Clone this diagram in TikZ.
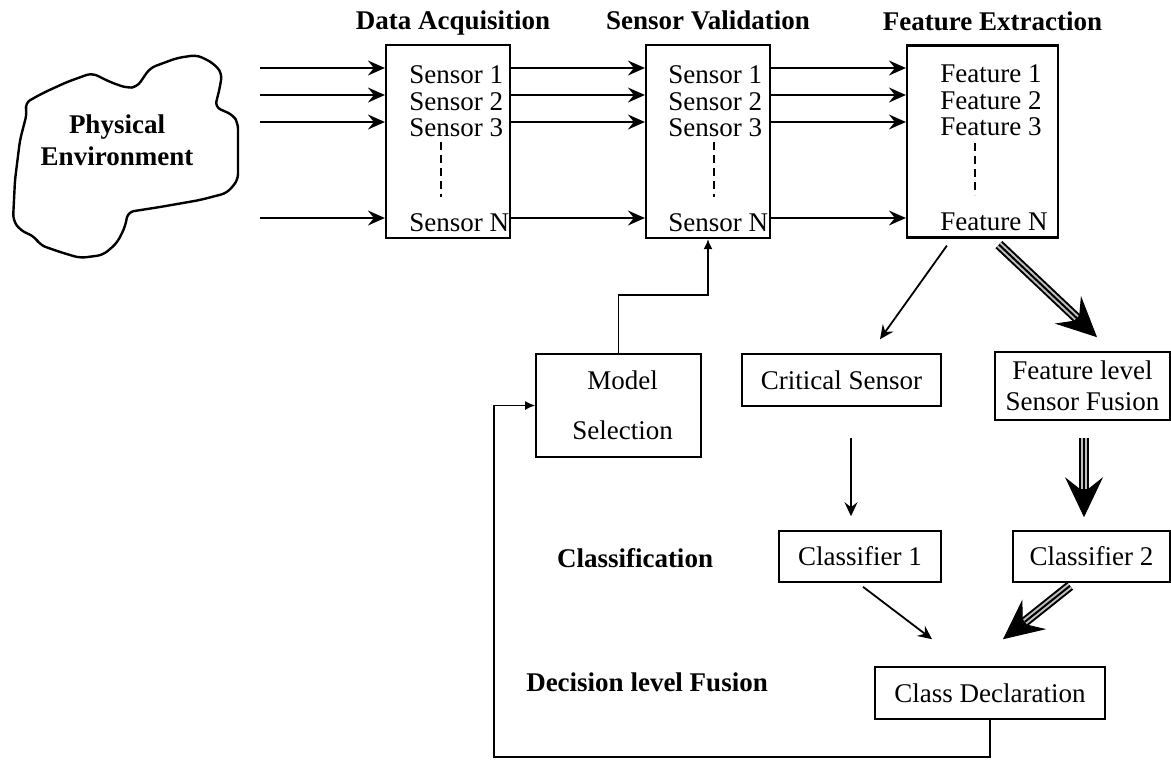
\documentclass[tikz,border=0pt]{standalone}
\usepackage{fontspec}
\setmainfont{Liberation Serif}
\usetikzlibrary{positioning}
\usetikzlibrary{arrows.meta, calc}

\begin{document}
\begin{tikzpicture}[x=0.5pt, y=-0.5pt, >={Stealth[length=8.5pt, width=7.5pt, inset=3pt]}, font=\fontsize{13.5}{16}\selectfont]%
            \tikzstyle{blk} = [ rectangle, draw = black, line width = 1.1pt, inner sep = 0pt]
            \tikzstyle{box} = [ rectangle, draw = black, line width = 0.8pt, inner sep = 0pt, align = center]
            \tikzstyle{lbl} = [ inner sep = 0pt, anchor = west]
            \tikzstyle{ttl} = [ inner sep = 0pt, text depth = 0pt, align = center, font = \fontsize{13.5}{16}\selectfont\bfseries]
            \tikzstyle{post} = [ ->, line width = 1pt]
            \tikzstyle{sml} = [ -{Stealth[length=7pt, width=6.5pt, inset=2.5pt]}, line width = 0.9pt]
            \tikzstyle{fbk} = [ -{Latex[length=5pt, width=4.5pt]}, line width = 0.8pt]
            \tikzstyle{fat} = [ -{Stealth[length=20pt, width=19pt, inset=7.5pt, line width=0.5pt]}, line width = 5pt,
                                postaction = {draw = black!25, line width = 3pt, -, shorten > = 14pt},
                                postaction = {draw = black, line width = 1pt, -, shorten > = 14pt}]
            \tikzstyle{dots} = [ line width = 1.2pt, dash pattern = on 4pt off 2.5pt]
        %%
            \useasboundingbox (0,0) rectangle (1171,761);
            %% Physical environment
            \draw [line width = 1.2pt, rounded corners = 3pt] (25,103) -- (43,93) -- (67,82) -- (92,73) -- (110,82)
                -- (127,88) -- (137,87) -- (150,68) -- (177,58) -- (197,55) -- (213,63) -- (222,73) -- (220,87)
                -- (215,107) -- (233,115) -- (238,123) -- (238,180) -- (227,193) -- (200,200) -- (160,207)
                -- (128,212) -- (125,227) -- (117,243) -- (103,255) -- (80,258) -- (60,252) -- (40,245)
                -- (35,237) -- (20,230) -- (13,220) -- (15,180) -- (20,140) -- (27,113) -- cycle;
            \node [ttl] (pe) at (117, 140) {Physical\\Environment};

            %% Processing blocks
            \node [blk, minimum width = 62pt, minimum height = 96.5pt] (da) at (448, 141.5) {};
            \node [blk, minimum width = 62pt, minimum height = 96.5pt] (sv) at (708, 141.5) {};
            \node [blk, minimum width = 75.5pt, minimum height = 96pt] (fe) at (982.5, 141.5) {};
            \node [ttl, above = 7pt of da, xshift = 2.5pt] (t_da) {Data Acquisition};
            \node [ttl, above = 7pt of sv] (t_sv) {Sensor Validation};
            \node [ttl, above = 7pt of fe, xshift = 5pt] (t_fe) {Feature Extraction};

            %% Channels
            \node [lbl] (da1) at (409, 75) {Sensor 1};
            \node [lbl] (da2) at (409, 102) {Sensor 2};
            \node [lbl] (da3) at (409, 128) {Sensor 3};
            \node [lbl] (daN) at (409, 223) {Sensor N};
            \node [lbl] (sv1) at (668, 75) {Sensor 1};
            \node [lbl] (sv2) at (668, 102) {Sensor 2};
            \node [lbl] (sv3) at (668, 128) {Sensor 3};
            \node [lbl] (svN) at (668, 223) {Sensor N};
            \node [lbl] (fe1) at (940, 74) {Feature 1};
            \node [lbl] (fe2) at (940, 101) {Feature 2};
            \node [lbl] (fe3) at (940, 127) {Feature 3};
            \node [lbl] (feN) at (940, 222) {Feature N};
            \draw [dots] (441,142) -- (441,197);
            \draw [dots] (714,142) -- (714,197);
            \draw [dots] (975,143) -- (975,195);

            \coordinate (in1) at (260, 68);
            \coordinate (in2) at (260, 95);
            \coordinate (in3) at (260, 122);
            \coordinate (inN) at (260, 218);
            \draw [post] (in1) -- (in1 -| da.west);
            \draw [post] (in2) -- (in2 -| da.west);
            \draw [post] (in3) -- (in3 -| da.west);
            \draw [post] (inN) -- (inN -| da.west);
            \draw [post] (in1 -| da.east) -- (in1 -| sv.west);
            \draw [post] (in2 -| da.east) -- (in2 -| sv.west);
            \draw [post] (in3 -| da.east) -- (in3 -| sv.west);
            \draw [post] (inN -| da.east) -- (inN -| sv.west);
            \draw [post] (in1 -| sv.east) -- (in1 -| fe.west);
            \draw [post] (in2 -| sv.east) -- (in2 -| fe.west);
            \draw [post] (in3 -| sv.east) -- (in3 -| fe.west);
            \draw [post] (inN -| sv.east) -- (inN -| fe.west);

            %% Lower part
            \node [box, minimum width = 82.5pt, minimum height = 51.5pt, font = \fontsize{13.5}{25}\selectfont] (ms) at (618.5, 405.5) {\hspace*{4pt}Model\\\hspace*{4pt}Selection};
            \node [box, minimum width = 99.5pt, minimum height = 26pt] (cs) at (841.5, 380) {Critical Sensor};
            \node [box, minimum width = 87.5pt, minimum height = 34pt, font = \fontsize{13.5}{15.5}\selectfont] (ff) at (1082.5, 386) {Feature level\\Sensor Fusion};
            \node [box, minimum width = 81pt, minimum height = 25.5pt] (c1) at (860, 556.5) {Classifier 1};
            \node [box, minimum width = 78.5pt, minimum height = 25.5pt] (c2) at (1091.5, 556.5) {Classifier 2};
            \node [box, minimum width = 115pt, minimum height = 26pt] (cd) at (990, 693) {Class Declaration};
            \node [ttl] (cl) at (635, 558) {Classification};
            \node [ttl] (dlf) at (647, 682) {Decision level Fusion};

            \draw [sml] ([shift={(41,7)}]fe.south west) -- ([shift={(38.5,-14)}]cs.north);
            \draw [fat] ([shift={(93,6)}]fe.south west) -- ([shift={(14.5,-14)}]ff.north);
            \draw [sml] ([shift={(9.5,31)}]cs.south) -- ([shift={(-9,-14)}]c1.north);
            \draw [fat] ([shift={(1.5,17)}]ff.south) -- ([shift={(-7.5,-13)}]c2.north);
            \draw [sml] ([shift={(3,4)}]c1.south) -- ([shift={(-58,-27)}]cd.north);
            \draw [fat] ([shift={(-21.5,3)}]c2.south) -- ([shift={(13,-27)}]cd.north);

            \coordinate (bend) at (618.5, 295);
            \coordinate (loop) at (494, 757);
            \draw [fbk] (ms.north) -- (bend) -| (sv.south);
            \draw [fbk] (cd.south) |- (loop) |- (ms.west);
        \end{tikzpicture}
\end{document}
